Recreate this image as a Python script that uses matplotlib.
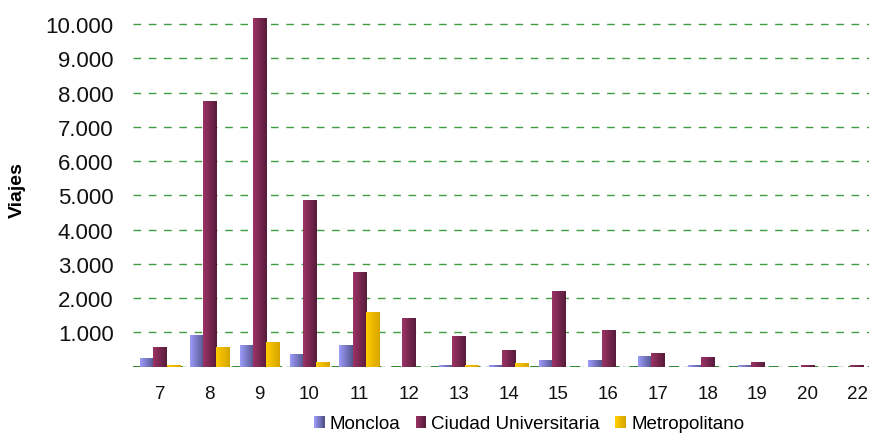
import numpy as np
import matplotlib
matplotlib.use("Agg")
import matplotlib.pyplot as plt
from matplotlib.colors import LinearSegmentedColormap, to_rgb
from matplotlib.patches import Patch, Rectangle
from matplotlib.legend_handler import HandlerBase
from matplotlib.ticker import FuncFormatter, MultipleLocator

plt.rcParams['font.family'] = ['Liberation Sans', 'DejaVu Sans']

# Trips per hour of day, by station
hours = ['7', '8', '9', '10', '11', '12', '13', '14', '15', '16', '17', '18', '19', '20', '22']
moncloa = [250, 920, 630, 370, 630, 0, 50, 50, 195, 195, 310, 50, 40, 0, 0]
ciudad_universitaria = [575, 7750, 10180, 4880, 2770, 1420, 895, 487, 2200, 1070, 400, 283, 137, 50, 50]
metropolitano = [50, 575, 720, 140, 1600, 0, 50, 110, 0, 0, 0, 0, 0, 0, 0]

series_names = ['Moncloa', 'Ciudad Universitaria', 'Metropolitano']
series_values = [moncloa, ciudad_universitaria, metropolitano]
# left (light) and right (shaded) colour of each bar's horizontal gradient
series_colors = [('#9c9cfa', '#56568f'),
                 ('#9c3366', '#571c3a'),
                 ('#ffcc00', '#d6a600')]

W, H = 870, 435
fig = plt.figure(figsize=(W / 100, H / 100), dpi=100)
ax = fig.add_axes([133 / W, (H - 367.7) / H, 737 / W, 359.7 / H])

x = np.arange(len(hours))
bw = 0.265
offsets = [-bw, 0.0, bw]

for vals, off, (c0, c1) in zip(series_values, offsets, series_colors):
    cmap = LinearSegmentedColormap.from_list('g', [c0, c1])
    bars = ax.bar(x + off, vals, width=bw, facecolor='none', linewidth=0, zorder=3)
    grad = np.linspace(0, 1, 64).reshape(1, -1)
    for rect in bars:
        h = rect.get_height()
        if h <= 0:
            continue
        x0 = rect.get_x()
        im = ax.imshow(grad, extent=(x0, x0 + rect.get_width(), 0, h),
                       aspect='auto', cmap=cmap, interpolation='bilinear',
                       origin='lower', zorder=3)
        im.set_clip_path(rect)

# dashed green grid
grid_color = '#3f9c3f'
ax.yaxis.set_major_locator(MultipleLocator(1000))
ax.grid(axis='y', color=grid_color, linestyle=(0, (5.5, 5.5)), linewidth=1.0)
ax.grid(axis='x', visible=False)
ax.axhline(0, color='#1f7d1f', linestyle=(0, (5.5, 5.5)), linewidth=1.3, zorder=2)
ax.set_axisbelow(True)

ax.set_xlim(-0.542, 14.26)
ax.set_ylim(0, 10500)
ax.set_xticks(x)
ax.set_xticklabels(hours)
ax.set_yticks(np.arange(0, 10001, 1000))
ax.yaxis.set_major_formatter(FuncFormatter(
    lambda v, p: '' if v == 0 else f'{v:,.0f}'.replace(',', '.')))
ax.tick_params(axis='y', length=0, pad=14, labelsize=16, labelcolor='#111111')
ax.tick_params(axis='x', length=0, pad=13, labelsize=13.5, labelcolor='#111111')
for s in ax.spines.values():
    s.set_visible(False)

fig.text(17 / W, 1 - 190 / H, 'Viajes', rotation=90, fontweight='bold',
         fontsize=14, ha='center', va='center')


class GradientSquare(HandlerBase):
    def __init__(self, c0, c1, n=12):
        super().__init__()
        self.c0 = np.array(to_rgb(c0))
        self.c1 = np.array(to_rgb(c1))
        self.n = n

    def create_artists(self, legend, orig_handle, xdescent, ydescent,
                       width, height, fontsize, trans):
        arts = []
        for i in range(self.n):
            t = i / (self.n - 1)
            col = self.c0 * (1 - t) + self.c1 * t
            arts.append(Rectangle((-xdescent + width * i / self.n, -ydescent),
                                  width / self.n + 0.3, height,
                                  facecolor=col, edgecolor='none',
                                  transform=trans))
        return arts


handles = [Patch(label=n) for n in series_names]
hmap = {h: GradientSquare(c0, c1) for h, (c0, c1) in zip(handles, series_colors)}
fig.legend(handles=handles, handler_map=hmap, loc='center',
           bbox_to_anchor=(529 / W, 1 - 425 / H), ncol=3, frameon=False,
           fontsize=13.5, handlelength=0.55, handleheight=0.55,
           handletextpad=0.3, columnspacing=0.8, borderpad=0, borderaxespad=0)

fig.savefig('out.png', dpi=100)
